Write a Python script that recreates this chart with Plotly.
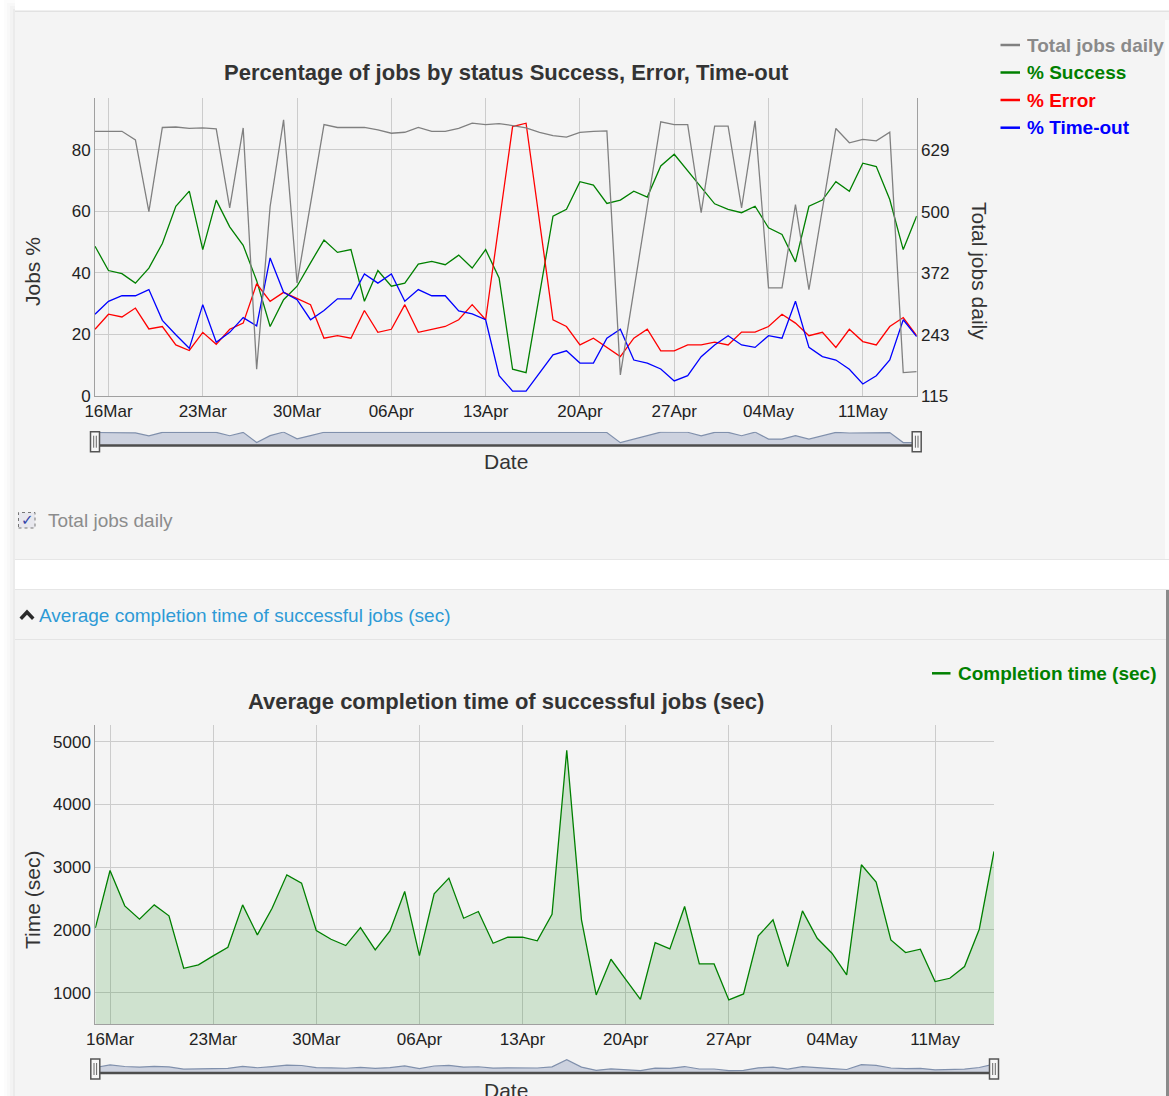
import plotly.graph_objects as go
import pandas as pd

# ---------------- data ----------------
START_DATE = "2015-03-15"
END_DATE = "2015-05-15"
dates = pd.date_range(START_DATE, END_DATE, freq="D")

tick_dates = ["2015-03-16", "2015-03-23", "2015-03-30", "2015-04-06", "2015-04-13",
              "2015-04-20", "2015-04-27", "2015-05-04", "2015-05-11"]
tick_labels = ["16Mar", "23Mar", "30Mar", "06Apr", "13Apr", "20Apr", "27Apr", "04May", "11May"]

total_jobs = [668, 668, 668, 650, 500, 676, 677, 674, 675, 673, 508, 675, 171, 511, 692, 351,
              513, 682, 676, 676, 676, 671, 664, 666, 676, 668, 668, 674, 685, 682, 684, 680,
              675, 666, 659, 656, 666, 668, 669, 159, 333, 507, 688, 682, 682, 498, 679, 679,
              508, 690, 341, 341, 515, 337, 506, 674, 644, 651, 648, 666, 164, 166]

pct_success = [48.7, 40.8, 39.8, 36.7, 41.6, 49.6, 61.7, 66.6, 47.6, 63.7, 55.0, 49.0, 37.5, 22.6,
               31.3, 35.7, 43.3, 50.7, 46.7, 47.6, 30.8, 40.8, 35.7, 36.7, 42.9, 43.8, 42.7, 45.8,
               41.6, 47.6, 38.4, 8.7, 7.6, 32.9, 58.5, 60.7, 69.7, 68.6, 62.6, 63.7, 66.6, 64.7,
               74.8, 78.6, 73.2, 67.7, 62.5, 60.7, 59.6, 61.7, 54.7, 52.5, 43.6, 61.7, 63.7, 69.7,
               66.6, 75.7, 74.6, 63.9, 47.6, 58.5]

pct_error = [21.7, 26.6, 25.7, 28.6, 21.8, 22.6, 16.6, 14.8, 20.7, 16.8, 21.7, 23.7, 36.5, 30.8,
             33.7, 31.8, 29.7, 18.8, 19.6, 18.8, 27.8, 20.7, 21.7, 29.7, 20.7, 21.7, 22.6, 24.8,
             29.7, 24.8, 56.3, 87.6, 88.7, 56.3, 24.8, 22.6, 16.6, 18.8, 15.8, 12.8, 18.8, 21.7,
             14.7, 14.7, 16.6, 16.6, 17.5, 16.6, 20.8, 20.8, 22.6, 26.6, 23.7, 19.6, 20.7, 15.8,
             21.7, 17.7, 16.6, 22.6, 25.5, 19.6]

pct_timeout = [26.6, 30.8, 32.6, 32.6, 34.6, 24.6, 19.9, 15.5, 29.7, 17.5, 20.7, 25.5, 22.8, 44.9,
               33.7, 31.3, 24.8, 27.8, 31.6, 31.6, 39.7, 36.7, 39.7, 30.8, 34.6, 32.6, 32.6, 27.7,
               26.7, 24.8, 6.6, 1.6, 1.6, 7.4, 13.4, 14.7, 10.7, 10.7, 18.8, 21.7, 11.7, 10.7,
               8.8, 4.9, 6.6, 12.8, 16.6, 19.6, 16.6, 15.8, 19.6, 18.8, 30.8, 15.8, 12.8, 11.7,
               8.7, 3.9, 6.6, 11.7, 24.8, 19.3]

completion_sec = [2027, 2947, 2383, 2170, 2399, 2224, 1388, 1442, 1585, 1724,
                  2399, 1920, 2346, 2878, 2745, 1990, 1851, 1750, 2037, 1681,
                  1984, 2612, 1590, 2575, 2825, 2186, 2293, 1787, 1883, 1883,
                  1825, 2250, 4862, 2160, 963, 1532, 1213, 894, 1798, 1697,
                  2373, 1458, 1458, 883, 979, 1904, 2160, 1415, 2303, 1867,
                  1628, 1282, 3038, 2761, 1841, 1638, 1692, 1176, 1229, 1415,
                  2011, 3250]

left_ticks = [0, 20, 40, 60, 80]
right_ticks = [115, 243, 372, 500, 629]
time_ticks = [1000, 2000, 3000, 4000, 5000]

# ---------------- geometry helpers ----------------
W, H = 1169, 1096
def fx(x):
    return x / W
def fy(y):
    return 1 - y / H

FONT = "Liberation Sans, Arial, sans-serif"
GRID = "rgb(204,204,204)"
AXIS = "rgb(160,160,160)"
PANEL = "#f4f4f4"
LW = 1.3
xr = [dates[0].strftime("%Y-%m-%d"), dates[-1].strftime("%Y-%m-%d")]

fig = go.Figure()

# top chart
fig.add_trace(go.Scatter(x=dates, y=total_jobs, xaxis="x", yaxis="y2", mode="lines",
                         line=dict(color="gray", width=LW), hoverinfo="skip"))
fig.add_trace(go.Scatter(x=dates, y=pct_success, xaxis="x", yaxis="y", mode="lines",
                         line=dict(color="green", width=LW), hoverinfo="skip"))
fig.add_trace(go.Scatter(x=dates, y=pct_error, xaxis="x", yaxis="y", mode="lines",
                         line=dict(color="red", width=LW), hoverinfo="skip"))
fig.add_trace(go.Scatter(x=dates, y=pct_timeout, xaxis="x", yaxis="y", mode="lines",
                         line=dict(color="blue", width=LW), hoverinfo="skip"))
# top range selector mini plot
fig.add_trace(go.Scatter(x=dates, y=total_jobs, xaxis="x3", yaxis="y4", mode="lines",
                         fill="tozeroy", fillcolor="#cdd2df",
                         line=dict(color="rgb(128,144,172)", width=1.2), hoverinfo="skip"))
# bottom chart
fig.add_trace(go.Scatter(x=dates, y=completion_sec, xaxis="x2", yaxis="y3", mode="lines",
                         fill="tozeroy", fillcolor="rgba(0,128,0,0.15)",
                         line=dict(color="green", width=LW), hoverinfo="skip"))
fig.add_trace(go.Scatter(x=dates, y=completion_sec, xaxis="x4", yaxis="y5", mode="lines",
                         fill="tozeroy", fillcolor="#cdd2df",
                         line=dict(color="rgb(128,144,172)", width=1.2), hoverinfo="skip"))

tickfont = dict(family=FONT, size=17, color="#222")
common_x = dict(type="date", range=xr, tickmode="array", tickvals=tick_dates, ticktext=tick_labels,
                showgrid=True, gridcolor=GRID, gridwidth=1, showline=True, linecolor=AXIS,
                linewidth=1, ticks="", tickfont=tickfont, zeroline=False, fixedrange=True,
                automargin=False)

fig.update_layout(
    width=W, height=H, margin=dict(l=0, r=0, t=0, b=0, autoexpand=False),
    paper_bgcolor="white", plot_bgcolor="rgba(0,0,0,0)", showlegend=False,
    font=dict(family=FONT, color="#222"),
    xaxis=dict(domain=[fx(95), fx(916.7)], anchor="y", **common_x),
    yaxis=dict(domain=[fy(396), fy(98)], anchor="x", range=[0, 96.9], tickmode="array",
               tickvals=left_ticks, showgrid=True, gridcolor=GRID, showline=True, linecolor=AXIS,
               ticks="", tickfont=tickfont, zeroline=False, fixedrange=True, automargin=False),
    yaxis2=dict(overlaying="y", side="right", anchor="x", range=[115, 737.6], tickmode="array",
                tickvals=right_ticks, showgrid=False, showline=True, linecolor=AXIS, ticks="",
                tickfont=tickfont, zeroline=False, fixedrange=True, automargin=False),
    xaxis2=dict(domain=[fx(95.3), fx(994)], anchor="y3", **common_x),
    yaxis3=dict(domain=[fy(1024), fy(725)], anchor="x2", range=[500, 5266], tickmode="array",
                tickvals=time_ticks, showgrid=True, gridcolor=GRID, showline=True, linecolor=AXIS,
                ticks="", tickfont=tickfont, zeroline=False, fixedrange=True, automargin=False),
    xaxis3=dict(domain=[fx(95), fx(916.7)], anchor="y4", type="date", range=xr, visible=False,
                fixedrange=True),
    yaxis4=dict(domain=[fy(445), fy(431.7)], anchor="x3", range=[44, 709], visible=False,
                fixedrange=True),
    xaxis4=dict(domain=[fx(95.3), fx(994)], anchor="y5", type="date", range=xr, visible=False,
                fixedrange=True),
    yaxis5=dict(domain=[fy(1073), fy(1058)], anchor="x4", range=[0, 5500], visible=False,
                fixedrange=True),
)

shapes = []
def rect(x0, y0, x1, y1, fill, line=None, layer="below", width=0, dash=None):
    d = dict(type="rect", xref="paper", yref="paper", x0=fx(x0), x1=fx(x1), y0=fy(y1), y1=fy(y0),
             fillcolor=fill, layer=layer, line=dict(width=width, color=line or fill))
    if dash:
        d["line"]["dash"] = dash
    shapes.append(d)

def hline(x0, x1, y, color, width=1, layer="below"):
    shapes.append(dict(type="line", xref="paper", yref="paper", x0=fx(x0), x1=fx(x1),
                       y0=fy(y), y1=fy(y), line=dict(color=color, width=width), layer=layer))

def vline(x, y0, y1, color, width=1, layer="below"):
    shapes.append(dict(type="line", xref="paper", yref="paper", x0=fx(x), x1=fx(x),
                       y0=fy(y0), y1=fy(y1), line=dict(color=color, width=width), layer=layer))

# page shadow
for k, a in [(4, 0.012), (7, 0.015), (10, 0.02), (13, 0.03)]:
    rect(k, k - 4, 15, H, "rgba(0,0,0,%s)" % a)
# panels
rect(15, 11, W, 559, PANEL)
hline(15, W, 11.3, "#e2e2e2", 1.5)
hline(15, W, 559.5, "#e6e6e6", 1.2)
hline(15, W, 589.5, "#e6e6e6", 1.2)
rect(15, 590, W, 639, PANEL)
hline(15, W, 639.5, "#e4e4e4", 1.2)
rect(15, 640, W, H, PANEL)
rect(1165, 20, W, 559, "#fbfbfb", layer="above")
rect(1166, 590, W, H, "#8a8a8a", layer="above")

# range selectors
def selector(x0, x1, ybase, yc):
    hline(x0, x1, ybase, "#4d4d4d", 2.5, layer="above")
    for hx in (x0, x1):
        shapes.append(dict(type="path", xref="paper", yref="paper", layer="above",
                           path="M %f %f L %f %f L %f %f L %f %f Z" % (
                               fx(hx - 4.5), fy(yc - 10), fx(hx + 4.5), fy(yc - 10),
                               fx(hx + 4.5), fy(yc + 10), fx(hx - 4.5), fy(yc + 10)),
                           fillcolor="#f7f7f7", line=dict(color="#555", width=1.5)))
        vline(hx - 1.3, yc - 6, yc + 6, "#666", 1, layer="above")
        vline(hx + 1.3, yc - 6, yc + 6, "#666", 1, layer="above")

selector(95, 916.7, 445.5, 441.7)
selector(95.3, 994, 1073, 1069)

# legend marks
leg = [("Total jobs daily", "gray", "#8a8a8a", 45), ("% Success", "green", "green", 72.5),
       ("% Error", "red", "red", 100), ("% Time-out", "blue", "blue", 127.7)]
ann = []
for name, lc, tc, yy in leg:
    hline(1000.5, 1020, yy, lc, 2.5, layer="above")
    ann.append(dict(text="<b>%s</b>" % name, x=fx(1025), y=fy(yy), xref="paper", yref="paper",
                    xanchor="left", yanchor="middle", showarrow=False, width=140, align="left",
                    font=dict(family=FONT, size=19, color=tc)))
hline(932, 950.5, 673.3, "green", 2.5, layer="above")
ann.append(dict(text="<b>Completion time (sec)</b>", x=fx(956), y=fy(673.3), xref="paper",
                yref="paper", xanchor="left", yanchor="middle", showarrow=False,
                font=dict(family=FONT, size=19, color="green")))

# checkbox
rect(18.5, 512.5, 35, 528, "#e8e8ee", line="#777", layer="above", width=1, dash="dot")
ann.append(dict(text="✓", x=fx(27), y=fy(520), xref="paper", yref="paper", xanchor="center",
                yanchor="middle", showarrow=False,
                font=dict(family="DejaVu Sans", size=15, color="#3344aa")))
ann.append(dict(text="Total jobs daily", x=fx(45.5), y=fy(520), xref="paper", yref="paper",
                xanchor="left", yanchor="middle", showarrow=False,
                font=dict(family=FONT, size=19, color="#8c8c8c")))
# caret + link
shapes.append(dict(type="path", xref="paper", yref="paper", layer="above",
                   path="M %f %f L %f %f L %f %f L %f %f L %f %f L %f %f Z" % (
                       fx(19.5), fy(617.5), fx(27), fy(609.5), fx(34.5), fy(617.5),
                       fx(32), fy(620), fx(27), fy(614.8), fx(22), fy(620)),
                   fillcolor="#2a2a2a", line=dict(width=0)))
ann.append(dict(text="Average completion time of successful jobs (sec)", x=fx(36.5), y=fy(615),
                xref="paper", yref="paper", xanchor="left", yanchor="middle", showarrow=False,
                font=dict(family=FONT, size=19, color="#2d9ad6")))

# titles
def text(t, x, y, size, color="#333", angle=0, bold=False):
    ann.append(dict(text=("<b>%s</b>" % t) if bold else t, x=fx(x), y=fy(y), xref="paper",
                    yref="paper", xanchor="center", yanchor="middle", showarrow=False,
                    textangle=angle, font=dict(family=FONT, size=size, color=color)))

text("Percentage of jobs by status Success, Error, Time-out", 506.5, 73, 22, bold=True)
text("Average completion time of successful jobs (sec)", 506, 701, 22, bold=True)
text("Jobs %", 32, 272, 21, angle=-90)
text("Total jobs daily", 980, 271, 21, angle=90)
text("Date", 506, 461, 21)
text("Time (sec)", 32, 900, 21, angle=-90)
# bottom "Date" is cut by the page edge in the reference: clip it inside the canvas
ann.append(dict(text="Date", x=fx(506), y=fy(1077), xref="paper", yref="paper",
                xanchor="center", yanchor="top", valign="top", height=19, showarrow=False,
                font=dict(family=FONT, size=21, color="#333")))

fig.update_layout(shapes=shapes, annotations=ann)

fig.write_html("out.html", config={"displayModeBar": False, "staticPlot": True},
               post_script="document.body.style.margin='0';document.body.style.overflow='hidden';")
